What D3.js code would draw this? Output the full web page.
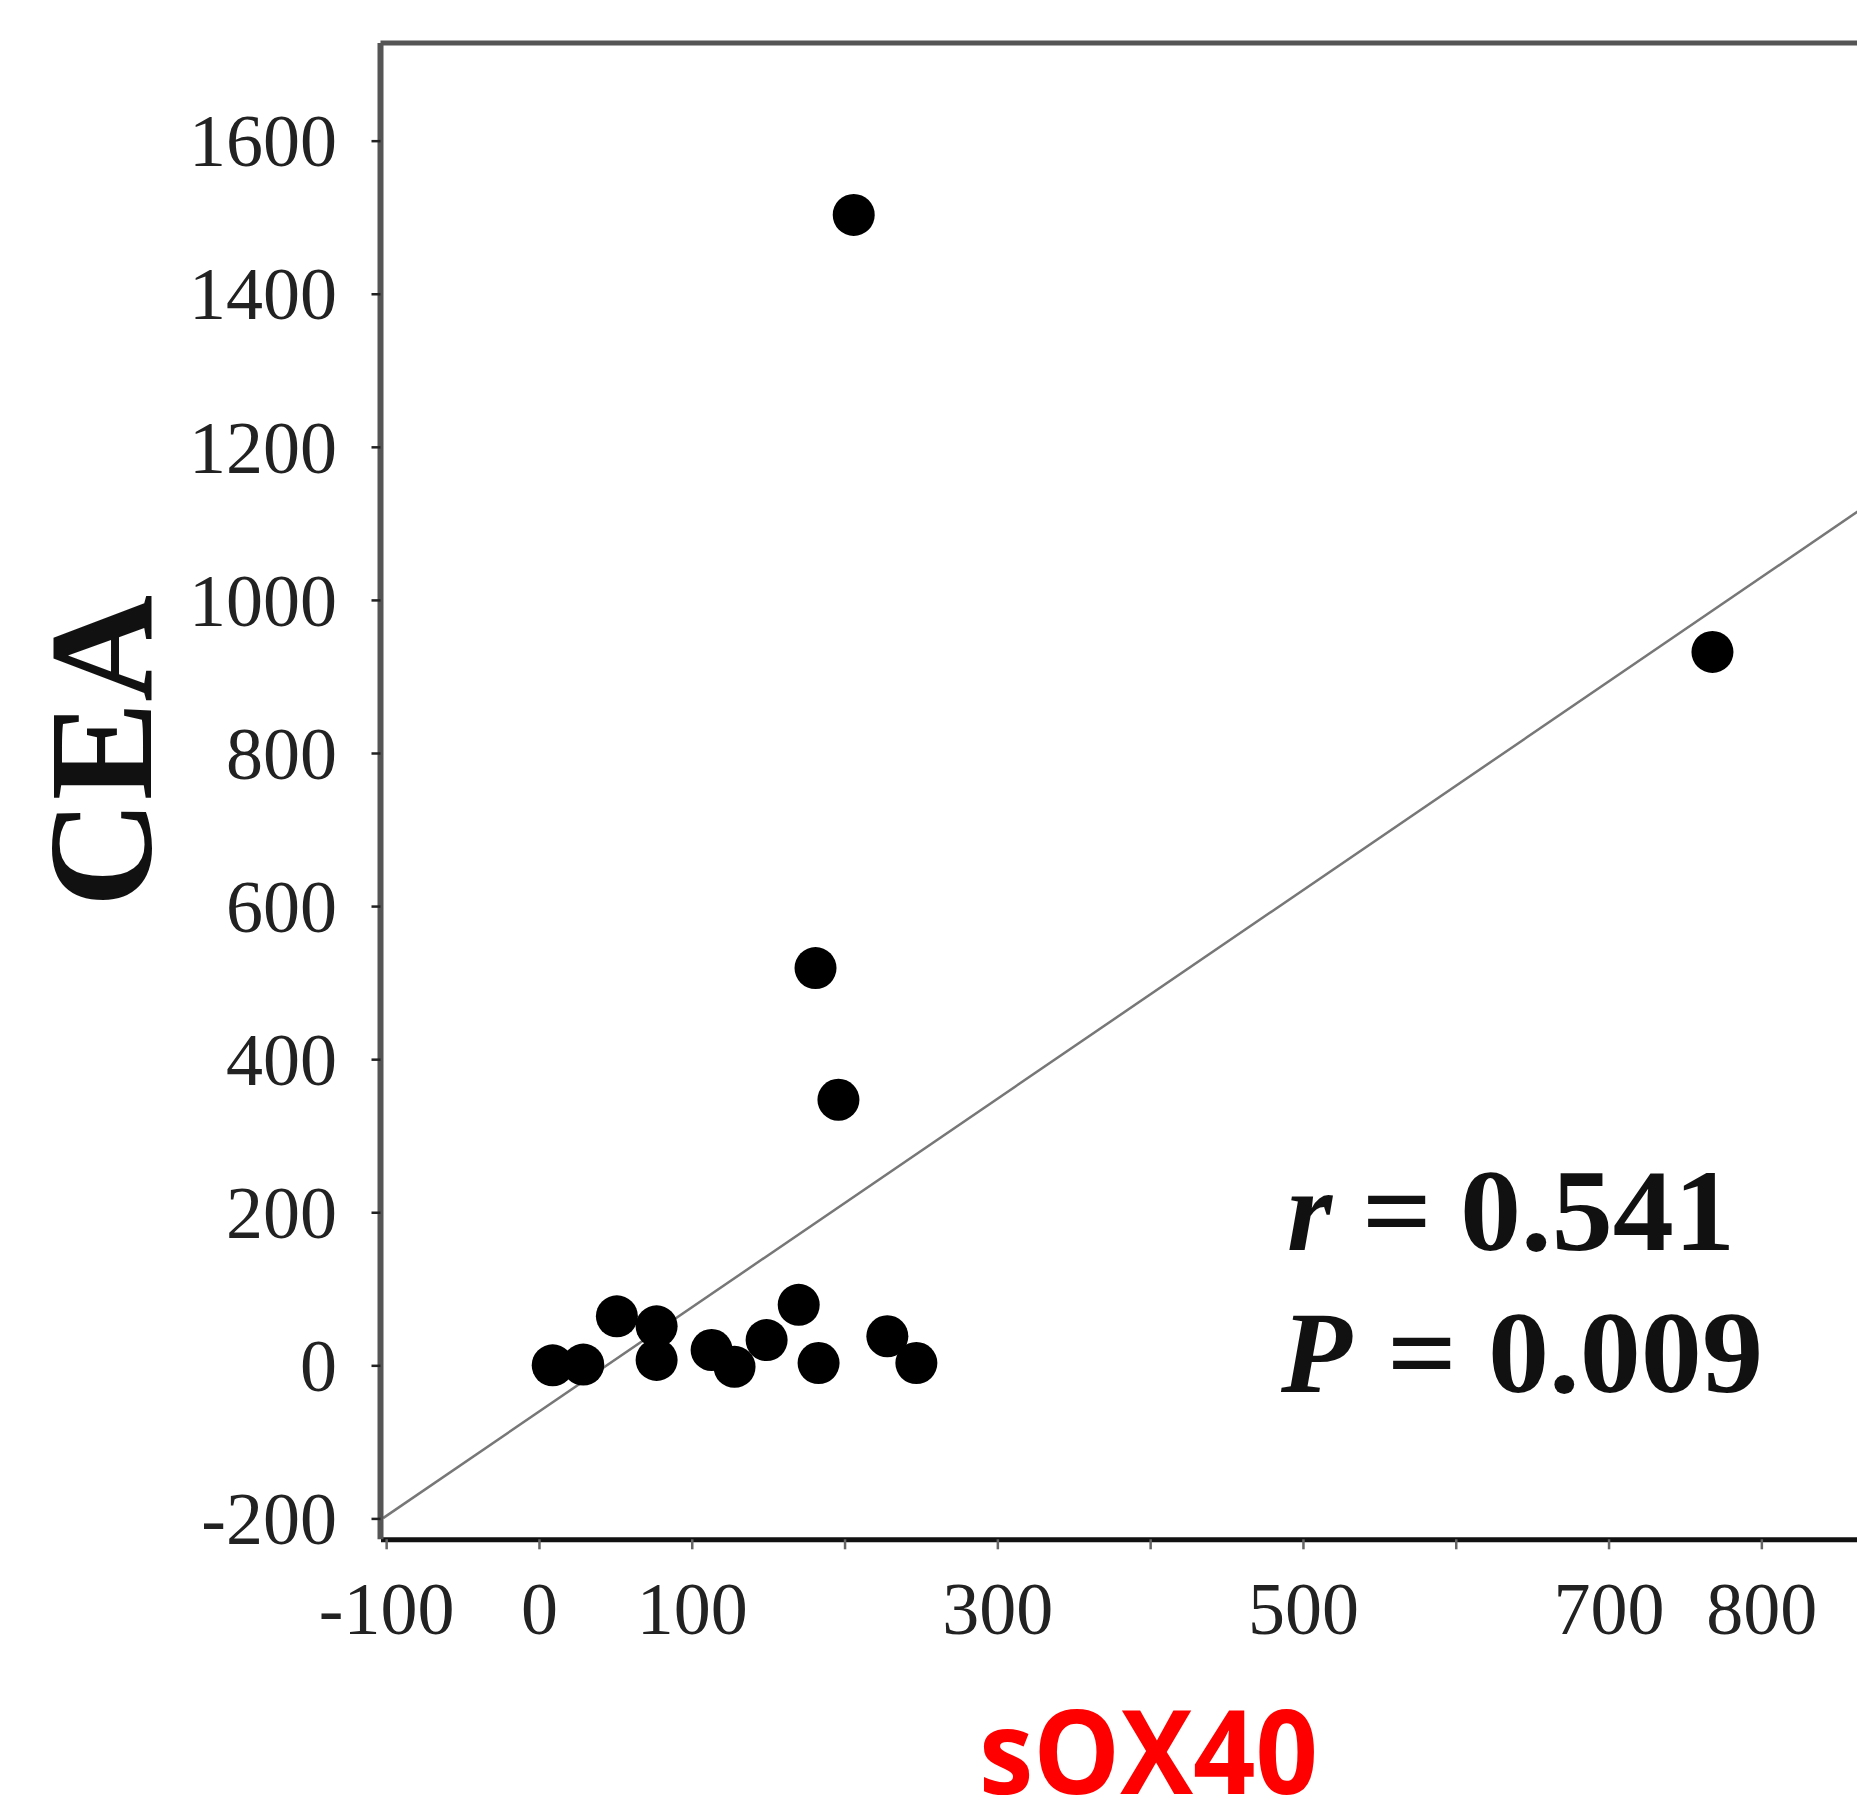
<!DOCTYPE html>
<html>
<head>
<meta charset="utf-8">
<script src="https://cdn.jsdelivr.net/npm/d3@7"></script>
<style>
  html, body { margin: 0; padding: 0; background: #fff; }
  svg { display: block; }
</style>
</head>
<body>
<svg id="chart" width="1857" height="1807"></svg>
<script>
// ---- data ----
const sox40 = [9, 29, 51, 77, 77, 113, 128, 149, 170, 183, 228, 247, 181, 196, 206, 768];
const cea   = [0, 1, 64, 51, 7, 20, -2, 33, 79, 3, 38, 3, 519, 347, 1503, 932];
const xTicks = [-100, 0, 100, 200, 300, 400, 500, 600, 700, 800];
const xTickLabels = ["-100", "0", "100", "", "300", "", "500", "", "700", "800"];
const yTicks = [-200, 0, 200, 400, 600, 800, 1000, 1200, 1400, 1600];
const yTickLabels = ["-200", "0", "200", "400", "600", "800", "1000", "1200", "1400", "1600"];
const fitX = [-102, 863];
const fitY = [-199.6, 1115.4];
const statSymbols = ["r", "P"];
const statValues = ["0.541", "0.009"];
const xTitle = "sOX40";
const yTitle = "CEA";

(function () {
// ---- layout ----
const svg = d3.select("#chart");
const pLeft = 380.5, pRight = 1857, pTop = 43, pBottom = 1539.3;
const x = d3.scaleLinear().domain([-103.7, 862.6]).range([pLeft, pRight]);
const y = d3.scaleLinear().domain([-227.3, 1727.6]).range([pBottom, pTop]);
const serif = "'Liberation Serif', 'Times New Roman', serif";

// top border
svg.append("line")
  .attr("x1", pLeft).attr("x2", pRight).attr("y1", pTop).attr("y2", pTop)
  .attr("stroke", "#555").attr("stroke-width", 5);

// fit line
const pts = fitX.map((d, i) => [x(d), y(fitY[i])]);
svg.append("path")
  .attr("d", d3.line()(pts))
  .attr("stroke", "#777").attr("stroke-width", 2.5).attr("fill", "none");

// x axis
const xAxis = svg.append("g")
  .attr("transform", `translate(0,${pBottom})`)
  .call(d3.axisBottom(x).tickValues(xTicks)
    .tickFormat((d, i) => xTickLabels[i]).tickSize(10).tickSizeOuter(0).tickPadding(48));
xAxis.select(".domain").attr("stroke", "#111").attr("stroke-width", 5);
xAxis.selectAll(".tick line").attr("stroke", "#666").attr("stroke-width", 2.5);
xAxis.selectAll(".tick text")
  .attr("font-family", serif)
  .attr("font-size", 74).attr("fill", "#222")
  .attr("dy", "0").attr("y", 1634 - pBottom);

// y axis
const yAxis = svg.append("g")
  .attr("transform", `translate(${pLeft},0)`)
  .call(d3.axisLeft(y).tickValues(yTicks).tickFormat((d, i) => yTickLabels[i])
    .tickSize(9).tickSizeOuter(0).tickPadding(34));
yAxis.select(".domain").attr("stroke", "#555").attr("stroke-width", 6)
  .attr("d", `M0,${pTop}V${pBottom}`);
yAxis.selectAll(".tick line").attr("stroke", "#222").attr("stroke-width", 2.5);
yAxis.selectAll(".tick text")
  .attr("font-family", serif)
  .attr("font-size", 74).attr("fill", "#222")
  .attr("x", 337 - pLeft).attr("dy", "0.34em");

// points
svg.append("g").selectAll("circle")
  .data(sox40.map((d, i) => [d, cea[i]]))
  .join("circle")
  .attr("cx", d => x(d[0])).attr("cy", d => y(d[1]))
  .attr("r", 21).attr("fill", "#000");

// stats text
const statPos = [
  { sx: 1287, ex: 1362, vx: 1460, y: 1250 },
  { sx: 1281, ex: 1387, vx: 1488, y: 1392 }
];
statPos.forEach((p, i) => {
  const g = svg.append("g").attr("font-family", serif).attr("font-weight", "bold")
    .attr("fill", "#111").attr("font-size", 116);
  g.append("text").attr("x", p.sx).attr("y", p.y).attr("font-style", "italic").text(statSymbols[i]);
  g.append("text").attr("x", p.ex).attr("y", p.y).attr("textLength", 70)
    .attr("lengthAdjust", "spacingAndGlyphs").text("=");
  g.append("text").attr("x", p.vx).attr("y", p.y).attr("textLength", 275)
    .attr("lengthAdjust", "spacingAndGlyphs").text(statValues[i]);
});

// axis titles
svg.append("text")
  .attr("transform", "translate(151,751) rotate(-90)")
  .attr("text-anchor", "middle")
  .attr("font-family", serif).attr("font-weight", "bold")
  .attr("font-size", 148).attr("fill", "#111")
  .text(yTitle);

svg.append("text")
  .attr("x", 979).attr("y", 1794)
  .attr("font-family", "'Open Sans', 'Noto Sans', sans-serif")
  .attr("font-weight", "bold").attr("font-size", 116)
  .attr("fill", "#ff0000")
  .attr("textLength", 339).attr("lengthAdjust", "spacingAndGlyphs")
  .text(xTitle);
})();
</script>
</body>
</html>
